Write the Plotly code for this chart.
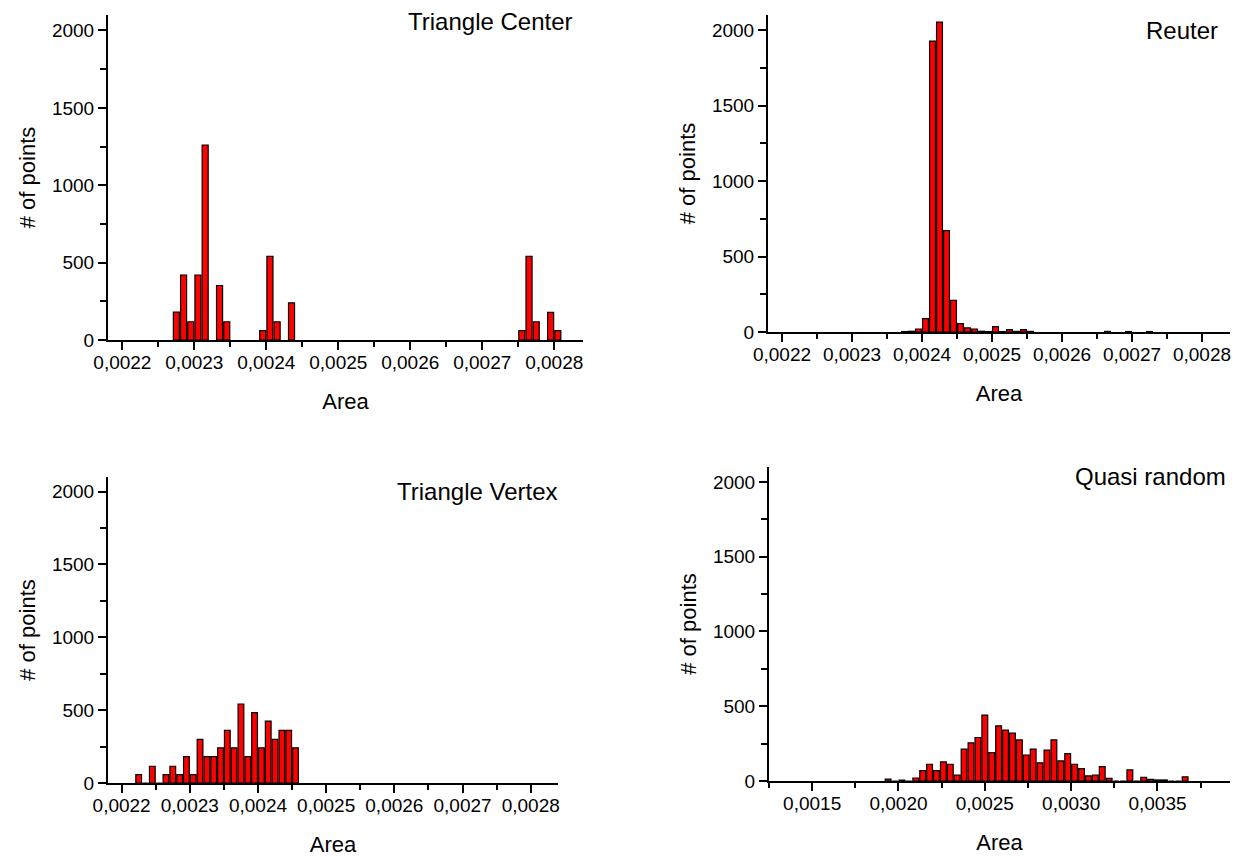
import plotly.graph_objects as go

# ---------------- data ----------------
# Triangle Center (bin width 0.00001)
tc_area = [0.002275, 0.002285, 0.002295, 0.002305, 0.002315, 0.002335, 0.002345,
           0.002395, 0.002405, 0.002415, 0.002435,
           0.002755, 0.002765, 0.002775, 0.002795, 0.002805]
tc_count = [180, 420, 118, 420, 1260, 352, 118,
            60, 540, 118, 240,
            60, 540, 118, 178, 60]

# Reuter (bin width 0.00001)
re_area = [0.002375, 0.002385, 0.002395, 0.002405, 0.002415, 0.002425, 0.002435,
           0.002445, 0.002455, 0.002465, 0.002475, 0.002485, 0.002495, 0.002505,
           0.002515, 0.002525, 0.002535, 0.002545, 0.002555, 0.002665, 0.002695,
           0.002725]
re_count = [3, 5, 20, 89, 1927, 2053, 672,
            210, 56, 27, 20, 5, 3, 36,
            3, 16, 4, 16, 4, 4, 3,
            3]

# Triangle Vertex (bin width 0.00001)
tv_area = [0.002225, 0.002235, 0.002245, 0.002255, 0.002265, 0.002275, 0.002285,
           0.002295, 0.002305, 0.002315, 0.002325, 0.002335, 0.002345, 0.002355,
           0.002365, 0.002375, 0.002385, 0.002395, 0.002405, 0.002415, 0.002425,
           0.002435, 0.002445, 0.002455]
tv_count = [57, 0, 115, 0, 57, 115, 57,
            181, 57, 299, 181, 181, 241, 361,
            241, 542, 181, 483, 241, 425, 299,
            361, 361, 241]

# Quasi random (bin width 0.00004)
qr_area = [0.00194, 0.00198, 0.00202, 0.00206, 0.00210, 0.00214, 0.00218, 0.00222,
           0.00226, 0.00230, 0.00234, 0.00238, 0.00242, 0.00246, 0.00250, 0.00254,
           0.00258, 0.00262, 0.00266, 0.00270, 0.00274, 0.00278, 0.00282, 0.00286,
           0.00290, 0.00294, 0.00298, 0.00302, 0.00306, 0.00310, 0.00314, 0.00318,
           0.00322, 0.00326, 0.00330, 0.00334, 0.00338, 0.00342, 0.00346, 0.00350,
           0.00354, 0.00358, 0.00362, 0.00366]
qr_count = [12, 0, 6, 0, 20, 69, 112, 69,
            128, 112, 40, 213, 255, 291, 441, 190,
            369, 340, 320, 275, 174, 213, 121, 206,
            275, 134, 183, 112, 83, 34, 40, 96,
            18, 0, 0, 74, 0, 25, 11, 7,
            7, 0, 0, 27]

titles = ["Triangle Center", "Reuter", "Triangle Vertex", "Quasi random"]

# ---------------- layout helpers ----------------
W, H = 1242, 857
OFF = 8  # page body margin
FONT = "Liberation Sans, Arial, Helvetica, sans-serif"


def dx(a, b):
    return [(a - OFF) / W, (b - OFF) / W]


def dy(top, bottom):
    return [1 - (bottom - OFF) / H, 1 - (top - OFF) / H]


panels = [
    dict(x=tc_area, y=tc_count, bw=0.00001, xr=[0.00218, 0.00284], dt=0.0001,
         domx=dx(108, 583), domy=dy(15, 340)),
    dict(x=re_area, y=re_count, bw=0.00001, xr=[0.00218, 0.00284], dt=0.0001,
         domx=dx(768, 1230), domy=dy(15, 332)),
    dict(x=tv_area, y=tv_count, bw=0.00001, xr=[0.00218, 0.00284], dt=0.0001,
         domx=dx(108, 558), domy=dy(477, 783)),
    dict(x=qr_area, y=qr_count, bw=0.00004, xr=[0.00125, 0.00392], dt=0.0005,
         domx=dx(769, 1230), domy=dy(467, 781)),
]

fig = go.Figure()
layout = dict(
    width=W, height=H,
    margin=dict(l=0, r=0, t=0, b=0),
    paper_bgcolor="white", plot_bgcolor="white",
    showlegend=False,
    separators=",.",
    font=dict(family=FONT, color="black"),
    annotations=[],
)

for i, p in enumerate(panels):
    n = "" if i == 0 else str(i + 1)
    fig.add_trace(go.Bar(
        x=p["x"], y=p["y"], width=p["bw"] * 0.84,
        marker=dict(color="#FF0000", line=dict(color="black", width=1.2)),
        xaxis="x" + n, yaxis="y" + n,
    ))
    common = dict(
        showline=True, linecolor="black", linewidth=2,
        ticks="outside", ticklen=8, tickwidth=2, tickcolor="black",
        showgrid=False, zeroline=False, automargin=False,
        tickfont=dict(size=19, family=FONT, color="black"),
    )
    layout["xaxis" + n] = dict(
        domain=p["domx"], range=p["xr"], anchor="y" + n,
        dtick=p["dt"], tick0=0, tickformat=".4f",
        ticklabelstandoff=-4,
        minor=dict(ticks="outside", ticklen=5, tickwidth=2, tickcolor="black",
                   dtick=p["dt"] / 2, showgrid=False),
        title=dict(text="Area", font=dict(size=22, family=FONT), standoff=22),
        **common,
    )
    layout["yaxis" + n] = dict(
        domain=p["domy"], range=[0, 2100], anchor="x" + n,
        dtick=500, tick0=0,
        minor=dict(ticks="outside", ticklen=6, tickwidth=2, tickcolor="black",
                   dtick=250, showgrid=False),
        title=dict(text="# of points", font=dict(size=22, family=FONT), standoff=10),
        **common,
    )

title_pos = [(575, 22), (1220, 31), (560, 491), (1228, 476)]
for t, (xp, yp) in zip(titles, title_pos):
    layout["annotations"].append(dict(
        text=t, x=(xp - OFF) / W, y=1 - (yp - OFF) / H, xref="paper", yref="paper",
        xanchor="right", yanchor="middle", showarrow=False,
        font=dict(size=24, family=FONT, color="black"),
    ))

fig.update_layout(**layout)
fig.write_html("out.html")
